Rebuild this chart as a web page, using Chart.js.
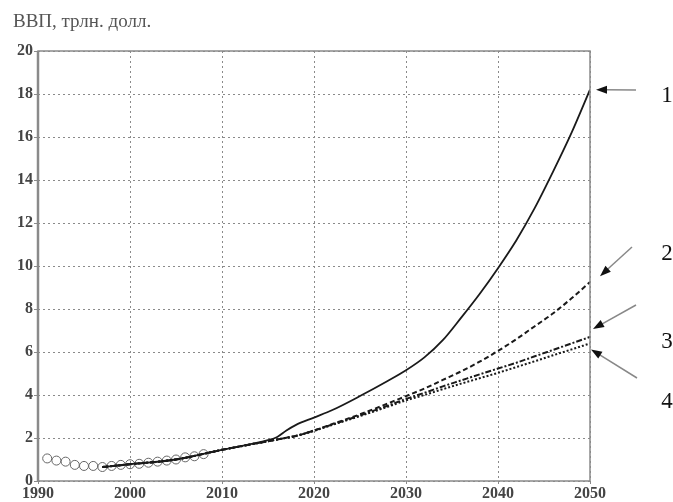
<!DOCTYPE html>
<html>
<head>
<meta charset="utf-8">
<script src="https://cdn.jsdelivr.net/npm/chart.js@4/dist/chart.umd.min.js"></script>
<style>
  html, body { margin: 0; padding: 0; background: #fff; }
  #wrap { width: 673px; height: 502px; position: relative; }
</style>
</head>
<body>
<div id="wrap"><canvas id="gdp"></canvas></div>
<script>
// historical values (circles)
const histYears = [1991, 1992, 1993, 1994, 1995, 1996, 1997, 1998, 1999, 2000, 2001, 2002, 2003, 2004, 2005, 2006, 2007, 2008];
const histGdp = [1.05, 0.95, 0.9, 0.75, 0.7, 0.7, 0.65, 0.7, 0.75, 0.78, 0.8, 0.85, 0.9, 0.95, 1.0, 1.1, 1.15, 1.25];

// forecast scenarios 1..4
const fcYears = [1997, 2000, 2005, 2010, 2015, 2016, 2017, 2018, 2020, 2022, 2025, 2028, 2030, 2032, 2034, 2036, 2038, 2040, 2042, 2044, 2046, 2048, 2050];
const scen1 = [0.65, 0.78, 1.0, 1.45, 1.9, 2.05, 2.35, 2.6, 2.95, 3.3, 3.95, 4.65, 5.15, 5.75, 6.55, 7.6, 8.7, 9.9, 11.2, 12.7, 14.4, 16.2, 18.2];
const scen2 = [0.65, 0.78, 1.0, 1.45, 1.85, 1.93, 2.01, 2.09, 2.35, 2.65, 3.1, 3.6, 3.95, 4.3, 4.7, 5.1, 5.55, 6.05, 6.6, 7.2, 7.8, 8.5, 9.25];
const scen3 = [0.65, 0.78, 1.0, 1.45, 1.85, 1.93, 2.01, 2.09, 2.35, 2.63, 3.05, 3.5, 3.82, 4.1, 4.4, 4.68, 4.96, 5.23, 5.5, 5.8, 6.1, 6.4, 6.7];
const scen4 = [0.65, 0.78, 1.0, 1.45, 1.85, 1.93, 2.01, 2.09, 2.33, 2.61, 3.02, 3.45, 3.75, 4.0, 4.27, 4.53, 4.78, 5.03, 5.3, 5.57, 5.85, 6.12, 6.4];

const xTicks = [1990, 2000, 2010, 2020, 2030, 2040, 2050];
const yTicks = [0, 2, 4, 6, 8, 10, 12, 14, 16, 18, 20];

const scenLabels = ['1', '2', '3', '4'];

const pts = (xs, ys) => xs.map((x, i) => ({ x, y: ys[i] }));
const serif = '"Liberation Serif", "DejaVu Serif", serif';

// frame around plot, y title, scenario arrows and numbers
const extras = {
  id: 'extras',
  afterDraw(chart) {
    const { ctx, chartArea: a, scales } = chart;
    ctx.save();
    ctx.strokeStyle = '#8a8a8a';
    ctx.lineWidth = 1.5;
    ctx.strokeRect(a.left, a.top, a.right - a.left, a.bottom - a.top);
    ctx.lineWidth = 2.5;
    ctx.beginPath();
    ctx.moveTo(a.left, a.top);
    ctx.lineTo(a.left, a.bottom);
    ctx.stroke();

    ctx.fillStyle = '#555';
    ctx.font = '19px ' + serif;
    ctx.textBaseline = 'alphabetic';
    ctx.fillText('ВВП, трлн. долл.', 13, 27);

    const series = [scen1, scen2, scen3, scen4];
    const arrows = [
      { dx: 6, dy: 0, fx: 636, fy: 90, ly: 102 },
      { dx: 10, dy: -6, fx: 632, fy: 247, ly: 260 },
      { dx: 3, dy: -8, fx: 636, fy: 305, ly: 348 },
      { dx: 1, dy: 6, fx: 637, fy: 378, ly: 408 }
    ];
    const xe = scales.x.getPixelForValue(fcYears[fcYears.length - 1]);
    arrows.forEach((ar, i) => {
      const vals = series[i];
      const tx = xe + ar.dx;
      const ty = scales.y.getPixelForValue(vals[vals.length - 1]) + ar.dy;
      const ang = Math.atan2(ty - ar.fy, tx - ar.fx);
      ctx.strokeStyle = '#888';
      ctx.lineWidth = 1.5;
      ctx.beginPath();
      ctx.moveTo(ar.fx, ar.fy);
      ctx.lineTo(tx - 8 * Math.cos(ang), ty - 8 * Math.sin(ang));
      ctx.stroke();
      ctx.fillStyle = '#111';
      ctx.beginPath();
      ctx.moveTo(tx, ty);
      ctx.lineTo(tx - 11 * Math.cos(ang) + 4 * Math.sin(ang), ty - 11 * Math.sin(ang) - 4 * Math.cos(ang));
      ctx.lineTo(tx - 11 * Math.cos(ang) - 4 * Math.sin(ang), ty - 11 * Math.sin(ang) + 4 * Math.cos(ang));
      ctx.closePath();
      ctx.fill();
      ctx.fillStyle = '#111';
      ctx.font = '23px ' + serif;
      ctx.textAlign = 'center';
      ctx.fillText(scenLabels[i], 667, ar.ly);
    });
    ctx.restore();
  }
};

const lineDs = (data, dash, width) => ({
  data,
  showLine: true,
  order: 1,
  borderColor: '#1a1a1a',
  borderWidth: width,
  borderDash: dash,
  pointRadius: 0,
  fill: false,
  cubicInterpolationMode: 'monotone'
});

new Chart(document.getElementById('gdp'), {
  type: 'scatter',
  data: {
    datasets: [
      {
        data: pts(histYears, histGdp),
        showLine: false,
        order: 5,
        pointStyle: 'circle',
        pointRadius: 4.5,
        pointBackgroundColor: 'rgba(255,255,255,0)',
        pointBorderColor: '#666',
        pointBorderWidth: 1
      },
      lineDs(pts(fcYears, scen1), [], 1.8),
      lineDs(pts(fcYears, scen2), [5, 3], 2),
      lineDs(pts(fcYears, scen3), [6, 2, 2, 2], 2),
      lineDs(pts(fcYears, scen4), [2, 2], 2)
    ]
  },
  options: {
    responsive: true,
    maintainAspectRatio: false,
    animation: false,
    layout: { padding: { top: 51, right: 83, bottom: 0, left: 0 } },
    plugins: { legend: { display: false }, tooltip: { enabled: false } },
    scales: {
      x: {
        type: 'linear',
        min: 1990,
        max: 2050,
        afterBuildTicks: s => { s.ticks = xTicks.map(v => ({ value: v })); },
        afterFit: s => { s.height = 21; },
        ticks: { color: '#444', font: { family: serif, size: 16, weight: 'bold' }, padding: 0, maxRotation: 0, callback: v => String(v) },
        grid: { color: '#8a8a8a', lineWidth: 1, tickLength: 3 },
        border: { display: false, dash: [2, 3] }
      },
      y: {
        min: 0,
        max: 20,
        afterBuildTicks: s => { s.ticks = yTicks.map(v => ({ value: v })); },
        afterFit: s => { s.width = 38; },
        ticks: { color: '#444', font: { family: serif, size: 16, weight: 'bold' }, padding: 1 },
        grid: { color: '#8a8a8a', lineWidth: 1, tickLength: 4 },
        border: { display: false, dash: [2, 3] }
      }
    }
  },
  plugins: [extras]
});
</script>
</body>
</html>
